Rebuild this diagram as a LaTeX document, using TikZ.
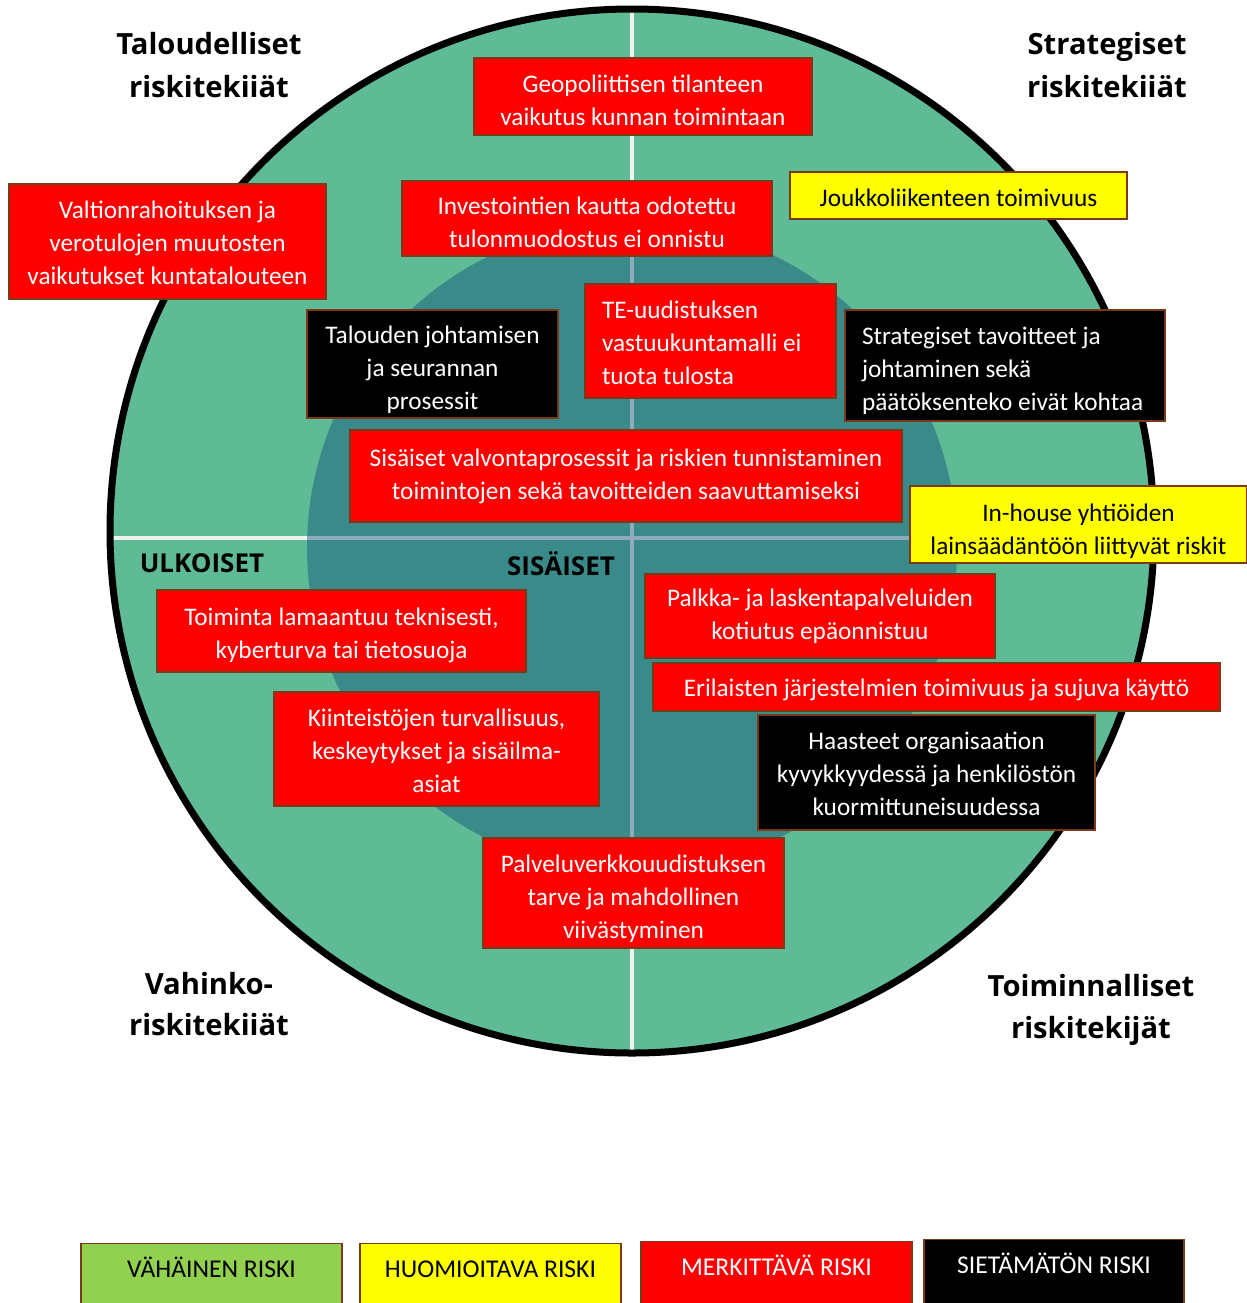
\documentclass[tikz,border=0pt]{standalone}
\usepackage{fontspec}
\setmainfont{Carlito}
\newfontfamily\headfont{Open Sans}
\usepackage{tikz}

\definecolor{ringgreen}{HTML}{5FBA96}
\definecolor{coreteal}{HTML}{3A8A8A}
\definecolor{axisgrey}{HTML}{8FAABB}
\definecolor{axiswhite}{HTML}{F0F2F0}
\definecolor{riskred}{HTML}{FF0000}
\definecolor{riskyellow}{HTML}{FFFF00}
\definecolor{riskgreen}{HTML}{92D050}
\definecolor{boxedge}{HTML}{7A3A1A}

% taller first line, pushes box text down
\newcommand{\lowerby}[1]{\rule{0pt}{\dimexpr 8.8pt+#1\relax}}

\begin{document}
\begin{tikzpicture}[x=0.5pt, y=-0.5pt,
    riskbox/.style={draw=boxedge, line width=0.7pt, inner sep=2pt, align=center,
        font=\fontsize{12.65}{16.5}\selectfont},
    redbox/.style={riskbox, fill=riskred, text=white},
    yellowbox/.style={riskbox, fill=riskyellow, text=black},
    blackbox/.style={riskbox, fill=black, text=white},
    legendbox/.style={draw=boxedge, line width=0.7pt, inner ysep=4pt, anchor=north,
        text height=13pt, text depth=15pt, font=\fontsize{12.8}{14}\selectfont},
    heading/.style={align=center, font=\headfont\bfseries\fontsize{14.6}{21.5}\selectfont},
    sidelabel/.style={font=\headfont\bfseries\fontsize{13}{15}\selectfont}]
    \useasboundingbox (0,0) rectangle (1247,1303);

    % rings
    \fill[ringgreen] (632,531) circle [radius=522];
    \fill[coreteal] (632,548) circle [radius=325];
    \draw[axiswhite, line width=2pt] (632,8) -- (632,1055);
    \draw[axiswhite, line width=2pt] (107,538) -- (1157,538);
    \begin{scope}
        \clip (632,548) circle [radius=325];
        \draw[axisgrey, line width=2pt] (632,8) -- (632,1055);
        \draw[axisgrey, line width=2pt] (107,538) -- (1157,538);
    \end{scope}
    \draw[line width=3.5pt] (632,531) circle [radius=522];

    % corner headings
    \node[heading] (talous) at (209,65) {Taloudelliset\\riskitekiiät};
    \node[heading] (strateg) at (1107,65) {Strategiset\\riskitekiiät};
    \node[heading, font=\headfont\bfseries\fontsize{14.6}{20.5}\selectfont] (vahinko) at (209,1004) {Vahinko-\\riskitekiiät};
    \node[heading, font=\headfont\bfseries\fontsize{14.6}{21}\selectfont] (toiminn) at (1091,1010) {Toiminnalliset\\riskitekijät};
    \node[sidelabel] (ulkoiset) at (202,563) {ULKOISET};
    \node[sidelabel] (sisaiset) at (561,564) {SISÄISET};

    % risks
    \node[redbox, minimum width=169pt, minimum height=38.5pt] (geo) at (643,96.5)
        {\lowerby{4pt}Geopoliittisen tilanteen\\vaikutus kunnan toimintaan};
    \node[redbox, minimum width=158.5pt, minimum height=57.5pt] (valtio) at (167.5,241.5)
        {\lowerby{1pt}Valtionrahoituksen ja\\verotulojen muutosten\\vaikutukset kuntatalouteen};
    \node[redbox, minimum width=185pt, minimum height=37.5pt] (invest) at (587,218.5)
        {\lowerby{3.5pt}Investointien kautta odotettu\\tulonmuodostus ei onnistu};
    \node[yellowbox, minimum width=168.5pt, minimum height=23.5pt] (joukko) at (958.5,195.5)
        {\lowerby{2pt}Joukkoliikenteen toimivuus};
    \node[blackbox, minimum width=125.5pt, minimum height=54pt] (talousjoht) at (432.5,364)
        {\lowerby{6pt}Talouden johtamisen\\ja seurannan\\prosessit};
    \node[redbox, align=flush left, inner xsep=8.5pt, text width=108.5pt, minimum height=57pt] (te) at (710.5,341)
        {\lowerby{1.5pt}TE-uudistuksen\\vastuukuntamalli ei\\tuota tulosta};
    \node[blackbox, align=flush left, inner xsep=8.5pt, text width=143pt, minimum height=55.5pt] (tavoite) at (1005,365.5)
        {\lowerby{5.5pt}Strategiset tavoitteet ja\\johtaminen sekä\\päätöksenteko eivät kohtaa};
    \node[redbox, minimum width=276pt, minimum height=46pt] (valvonta) at (626,476)
        {Sisäiset valvontaprosessit ja riskien tunnistaminen\\toimintojen sekä tavoitteiden saavuttamiseksi};
    \node[yellowbox, minimum width=168.5pt, minimum height=37.5pt] (inhouse) at (1078.5,524.5)
        {\lowerby{7pt}In-house yhtiöiden\\lainsäädäntöön liittyvät riskit};
    \node[redbox, minimum width=184.5pt, minimum height=41pt] (kyber) at (341.5,631)
        {\lowerby{4pt}Toiminta lamaantuu teknisesti,\\kyberturva tai tietosuoja};
    \node[redbox, minimum width=175pt, minimum height=42pt] (palkka) at (820,616)
        {Palkka- ja laskentapalveluiden\\kotiutus epäonnistuu};
    \node[redbox, minimum width=283.5pt, minimum height=24pt] (jarjest) at (936.5,687)
        {\lowerby{3pt}Erilaisten järjestelmien toimivuus ja sujuva käyttö};
    \node[redbox, minimum width=162.5pt, minimum height=57pt] (kiinteisto) at (436.5,749)
        {\lowerby{1.5pt}Kiinteistöjen turvallisuus,\\keskeytykset ja sisäilma-\\asiat};
    \node[blackbox, minimum width=168.5pt, minimum height=57.5pt] (kyvykkyys) at (926.5,772.5)
        {\lowerby{1pt}Haasteet organisaation\\kyvykkyydessä ja henkilöstön\\kuormittuneisuudessa};
    \node[redbox, minimum width=150.5pt, minimum height=55pt] (palvelu) at (633.5,893)
        {\lowerby{6pt}Palveluverkkouudistuksen\\tarve ja mahdollinen\\viivästyminen};

    % legend
    \node[legendbox, fill=riskgreen, minimum width=130.5pt] (vahainen) at (211.5,1243) {VÄHÄINEN RISKI};
    \node[legendbox, fill=riskyellow, minimum width=130.5pt] (huomio) at (490.5,1243) {HUOMIOITAVA RISKI};
    \node[legendbox, fill=riskred, text=white, minimum width=135.5pt] (merkit) at (776.5,1241) {MERKITTÄVÄ RISKI};
    \node[legendbox, fill=black, text=white, minimum width=130pt] (sietam) at (1054,1239) {SIETÄMÄTÖN RISKI};
\end{tikzpicture}
\end{document}
